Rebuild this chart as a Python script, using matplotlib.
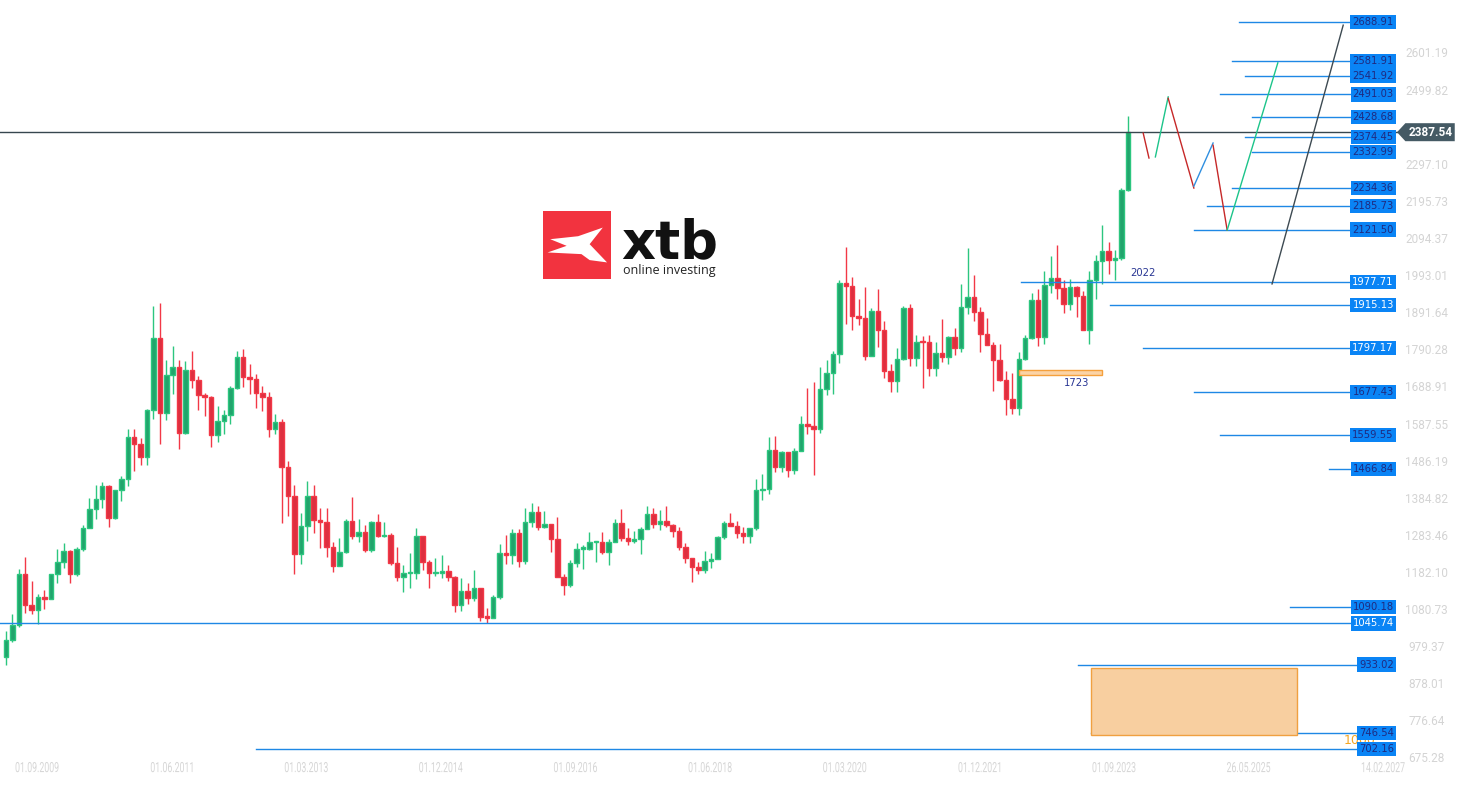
import numpy as np
import matplotlib.pyplot as plt
from matplotlib.patches import Rectangle, Polygon, PathPatch
from matplotlib.textpath import TextPath
from matplotlib.font_manager import FontProperties
from matplotlib.transforms import Affine2D

# monthly GOLD candles, Sep 2009 .. Apr 2024 (index 0 = Sep 2009)
opens = [953, 1001, 1040, 1180,
         1097, 1082, 1118, 1113, 1180, 1213, 1244, 1181, 1248, 1307, 1357, 1386,
         1421, 1333, 1409, 1439, 1556, 1536, 1501, 1628, 1826, 1620, 1724, 1746,
         1565, 1738, 1711, 1669, 1664, 1561, 1599, 1614, 1688, 1773, 1720, 1714,
         1675, 1663, 1578, 1597, 1472, 1393, 1234, 1313, 1395, 1327, 1323, 1253,
         1202, 1240, 1326, 1284, 1296, 1246, 1322, 1283, 1287, 1210, 1171, 1182,
         1184, 1283, 1213, 1183, 1183, 1190, 1172, 1095, 1134, 1115, 1142, 1064,
         1061, 1118, 1238, 1233, 1293, 1215, 1322, 1351, 1309, 1316, 1277, 1173,
         1151, 1211, 1249, 1249, 1268, 1268, 1242, 1269, 1321, 1280, 1271, 1275,
         1303, 1345, 1318, 1325, 1315, 1298, 1253, 1224, 1201, 1192, 1215, 1222,
         1282, 1321, 1313, 1292, 1284, 1305, 1409, 1413, 1520, 1472, 1513, 1464,
         1517, 1589, 1585, 1577, 1686, 1730, 1781, 1975, 1967, 1886, 1879, 1777,
         1898, 1847, 1734, 1708, 1769, 1907, 1770, 1814, 1813, 1743, 1783, 1774,
         1829, 1797, 1909, 1937, 1897, 1837, 1807, 1766, 1711, 1660, 1633, 1768,
         1824, 1928, 1827, 1969, 1990, 1962, 1919, 1965, 1940, 1848, 1983, 2036,
         2063, 2039, 2044, 2230]
highs = [1024, 1070, 1195, 1227,
         1162, 1127, 1137, 1180, 1249, 1265, 1245, 1254, 1314, 1388, 1424, 1431,
         1424, 1411, 1447, 1576, 1577, 1553, 1632, 1913, 1921, 1764, 1803, 1764,
         1763, 1791, 1722, 1676, 1666, 1640, 1629, 1693, 1790, 1796, 1755, 1726,
         1695, 1679, 1617, 1605, 1488, 1424, 1348, 1434, 1424, 1362, 1361, 1267,
         1280, 1332, 1392, 1331, 1315, 1326, 1345, 1322, 1293, 1255, 1205, 1238,
         1307, 1285, 1220, 1224, 1232, 1205, 1175, 1170, 1157, 1191, 1143, 1088,
         1124, 1263, 1287, 1304, 1303, 1362, 1375, 1367, 1353, 1317, 1337, 1181,
         1220, 1264, 1261, 1296, 1270, 1296, 1276, 1331, 1357, 1306, 1299, 1309,
         1366, 1362, 1356, 1365, 1316, 1309, 1266, 1225, 1214, 1243, 1237, 1284,
         1326, 1346, 1324, 1310, 1306, 1439, 1453, 1555, 1557, 1517, 1515, 1525,
         1611, 1689, 1704, 1747, 1765, 1789, 1984, 2075, 1992, 1933, 1965, 1906,
         1959, 1871, 1755, 1798, 1913, 1917, 1833, 1832, 1834, 1814, 1877, 1831,
         1853, 1974, 2070, 1998, 1910, 1880, 1814, 1808, 1735, 1730, 1787, 1833,
         1949, 1959, 2009, 2048, 2079, 1983, 1987, 1966, 1953, 2009, 2052, 2135,
         2088, 2065, 2236, 2431]
lows = [931, 995, 1035, 1075,
        1072, 1044, 1086, 1112, 1157, 1196, 1155, 1175, 1243, 1307, 1330, 1360,
        1309, 1330, 1381, 1420, 1462, 1477, 1478, 1603, 1535, 1600, 1672, 1523,
        1564, 1688, 1628, 1613, 1527, 1540, 1562, 1591, 1686, 1692, 1672, 1635,
        1625, 1555, 1562, 1321, 1338, 1180, 1208, 1271, 1292, 1251, 1226, 1187,
        1202, 1238, 1277, 1268, 1240, 1240, 1282, 1281, 1204, 1161, 1131, 1142,
        1167, 1191, 1142, 1175, 1170, 1162, 1077, 1080, 1098, 1106, 1052, 1046,
        1061, 1111, 1208, 1207, 1199, 1208, 1310, 1302, 1306, 1241, 1171, 1122,
        1146, 1200, 1195, 1245, 1214, 1236, 1205, 1267, 1271, 1260, 1264, 1236,
        1303, 1307, 1302, 1310, 1282, 1245, 1211, 1160, 1180, 1182, 1196, 1221,
        1276, 1311, 1280, 1266, 1266, 1302, 1382, 1400, 1459, 1459, 1445, 1454,
        1517, 1563, 1451, 1567, 1670, 1671, 1758, 1863, 1848, 1860, 1764, 1775,
        1802, 1717, 1677, 1678, 1766, 1750, 1750, 1688, 1721, 1722, 1759, 1753,
        1780, 1787, 1890, 1872, 1787, 1805, 1681, 1709, 1615, 1617, 1616, 1765,
        1823, 1804, 1809, 1949, 1932, 1893, 1903, 1884, 1847, 1810, 1931, 1973,
        2001, 1984, 2039, 2228]
closes = [1001, 1040, 1180, 1097,
          1082, 1118, 1113, 1180, 1213, 1244, 1181, 1248, 1307, 1357, 1386, 1421,
          1333, 1409, 1439, 1556, 1536, 1501, 1628, 1826, 1620, 1724, 1746, 1565,
          1738, 1711, 1669, 1664, 1561, 1599, 1614, 1688, 1773, 1720, 1714, 1675,
          1663, 1578, 1597, 1472, 1393, 1234, 1313, 1395, 1327, 1323, 1253, 1202,
          1240, 1326, 1284, 1296, 1246, 1322, 1283, 1287, 1210, 1171, 1182, 1184,
          1283, 1213, 1183, 1184, 1190, 1172, 1095, 1134, 1115, 1142, 1064, 1061,
          1118, 1238, 1233, 1293, 1215, 1322, 1351, 1309, 1316, 1277, 1173, 1151,
          1211, 1249, 1250, 1268, 1269, 1242, 1269, 1321, 1280, 1271, 1275, 1303,
          1345, 1318, 1325, 1315, 1298, 1253, 1224, 1201, 1192, 1215, 1222, 1282,
          1321, 1313, 1292, 1284, 1305, 1409, 1413, 1520, 1472, 1513, 1464, 1517,
          1589, 1585, 1577, 1686, 1730, 1781, 1975, 1967, 1886, 1879, 1777, 1898,
          1847, 1734, 1708, 1769, 1907, 1770, 1814, 1813, 1743, 1783, 1774, 1829,
          1797, 1909, 1937, 1897, 1837, 1807, 1766, 1711, 1660, 1633, 1768, 1824,
          1928, 1827, 1969, 1990, 1962, 1919, 1965, 1940, 1848, 1983, 2036, 2063,
          2039, 2044, 2230, 2387.54]

last_price = 2387.54

# drawn horizontal levels (price, month where the line starts)
levels = [2688.91, 2581.91, 2541.92, 2491.03, 2428.68, 2374.45, 2332.99,
          2234.36, 2185.73, 2121.50, 1977.71, 1915.13, 1797.17, 1677.43,
          1559.55, 1466.84, 1090.18, 1045.74, 933.02, 746.54, 702.16]
level_start = [192.4, 191.3, 193.3, 189.4, 194.4, 193.3, 194.4,
               191.3, 187.4, 185.3, 158.3, 172.2, 177.4, 185.3,
               189.4, 206.4, 200.3, -1.0, 167.2, 169.3, 39.0]
level_white = [1977.71, 1915.13, 1797.17, 1045.74]

# projected path (month index, price)
proj_segments = [
    ((177.4, 2385), (178.3, 2317), '#c62828'),
    ((179.3, 2320), (181.3, 2484), '#1cc48a'),
    ((181.3, 2480), (185.3, 2235), '#c62828'),
    ((185.3, 2240), (188.3, 2358), '#2f8fe0'),
    ((188.3, 2352), (190.5, 2120), '#c62828'),
    ((190.5, 2120), (198.4, 2577), '#1cc48a'),
    ((197.5, 1973), (208.6, 2680), '#3d4a52'),
]

# right price scale (2398.46 sits under the price tag)
scale_ticks = [2601.19, 2499.82, 2297.10, 2195.73, 2094.37, 1993.01,
               1891.64, 1790.28, 1688.91, 1587.55, 1486.19, 1384.82, 1283.46,
               1182.10, 1080.73, 979.37, 878.01, 776.64, 675.28]
date_labels = ['01.09.2009', '01.06.2011', '01.03.2013', '01.12.2014', '01.09.2016',
               '01.06.2018', '01.03.2020', '01.12.2021', '01.09.2023', '26.05.2025',
               '14.02.2027']

# zones (x0, x1, p0, p1)
small_zone = (158.1, 171.0, 1724, 1738)
big_zone = (169.3, 201.4, 741, 925)

# ----------------------------------------------------------------------
W, H = 1465, 785
fig = plt.figure(figsize=(W / 100, H / 100), dpi=100)
ax = fig.add_axes([0, 0, 1, 1])
ax.set_xlim(-0.936, 227.6)
ax.set_ylim(604.1, 2748.7)
ax.axis('off')

o = np.array(opens, float)
hi = np.array(highs, float)
lo = np.array(lows, float)
c = np.array(closes, float)
idx = np.arange(len(o))
up = c >= o

green_fill, green_edge = '#21a46c', '#2cc67f'
red_fill, red_edge = '#dd2f3f', '#f23847'
edge = np.where(up, green_edge, red_edge)
fill = np.where(up, green_fill, red_fill)

ax.vlines(idx, lo, hi, colors=edge, lw=1.0, zorder=3)
bottoms = np.minimum(o, c)
heights = np.maximum(np.abs(c - o), 4)
ax.bar(idx, heights, bottom=bottoms, width=0.7, color=fill, edgecolor=edge,
       linewidth=1.0, zorder=4)

# level lines + labels
box_right = 216.5
for p, s in zip(levels, level_start):
    ax.plot([s, 216.0], [p, p], color='#1e88e5', lw=1.0, zorder=5)
for p in levels:
    tc = 'white' if p in level_white else '#1f2a80'
    ax.text(box_right, p, f'{p:.2f}', ha='right', va='center', fontsize=7.2,
            family='DejaVu Sans', color=tc, zorder=8,
            bbox=dict(boxstyle='square,pad=0.22', fc='#0a84f5', ec='none'))

# current price line and tag
ax.plot([-1, 217.0], [last_price, last_price], color='#37474f', lw=1.0, zorder=6)
tag = Polygon([(217.0, last_price), (218.3, last_price + 24.6), (226.0, last_price + 24.6),
               (226.0, last_price - 24.6), (218.3, last_price - 24.6)],
              closed=True, fc='#455a64', ec='none', zorder=9)
ax.add_patch(tag)
ax.text(222.2, last_price, f'{last_price:.2f}', ha='center', va='center',
        fontsize=8.5, fontweight='bold', color='white', family='Roboto', zorder=10)

# projection
for (x0, y0), (x1, y1), col in proj_segments:
    ax.plot([x0, x1], [y0, y1], color=col, lw=1.0, zorder=6)

# zones
x0, x1, p0, p1 = small_zone
ax.add_patch(Rectangle((x0, p0), x1 - x0, p1 - p0, fc='#fbd3a6', ec='#f5a03c',
                       lw=1.0, zorder=5))
ax.text(x0 + 8.9, p0 - 8, '1723', ha='center', va='top', fontsize=7.2,
        color='#283593', zorder=7)
ax.text(177.3, 1990, '2022', ha='center', va='bottom', fontsize=7.2,
        color='#283593', zorder=7)
x0, x1, p0, p1 = big_zone
ax.add_patch(Rectangle((x0, p0), x1 - x0, p1 - p0, fc='#f8cfa0', ec='#f0a040',
                       lw=1.0, zorder=5))
ax.text(208.6, 726, '1000', ha='left', va='center', fontsize=9,
        color='#f5a623', zorder=6)

# right scale
for t in scale_ticks:
    ax.text(221.6, t, f'{t:.2f}', ha='center', va='center', fontsize=8.5,
            family='Roboto', color='#d4d4d4', zorder=2)

# date scale, drawn condensed
date_font = FontProperties(family='Roboto')
for k, lab in enumerate(date_labels):
    xc, yc = ax.transData.transform((4.84 + 21 * k, 653))
    tp = TextPath((0, 0), lab, size=10, prop=date_font)
    ext = tp.get_extents()
    sx, sy = 0.876, 1.4
    tr = Affine2D().translate(-(ext.x0 + ext.x1) / 2, -(ext.y0 + ext.y1) / 2) \
        .scale(sx, sy).translate(xc, yc)
    fig.add_artist(PathPatch(tp, transform=tr, fc='#d6d6d6', ec='none'))

# logo
lax = fig.add_axes([543 / W, 1 - 279 / H, 68 / W, 68 / H])
lax.set_xlim(8, 215)
lax.set_ylim(215, 10)
lax.axis('off')
lax.add_patch(Rectangle((8, 10), 207, 205, fc='#f2333f', ec='none'))
lax.add_patch(Polygon([(30, 95), (115, 86), (190, 60), (150, 110), (203, 165),
                       (150, 158), (125, 140), (22, 135), (80, 115)],
                      closed=True, fc='white', ec='none'))
fig.text(621 / W, 1 - 258 / H, 'xtb', fontsize=38, fontweight='bold',
         family='DejaVu Sans', color='#111111', va='baseline', ha='left')
fig.text(623 / W, 1 - 274 / H, 'online investing', fontsize=9, family='Open Sans',
         color='#222222', va='baseline', ha='left')

fig.savefig('out.png', dpi=100, facecolor='white')
